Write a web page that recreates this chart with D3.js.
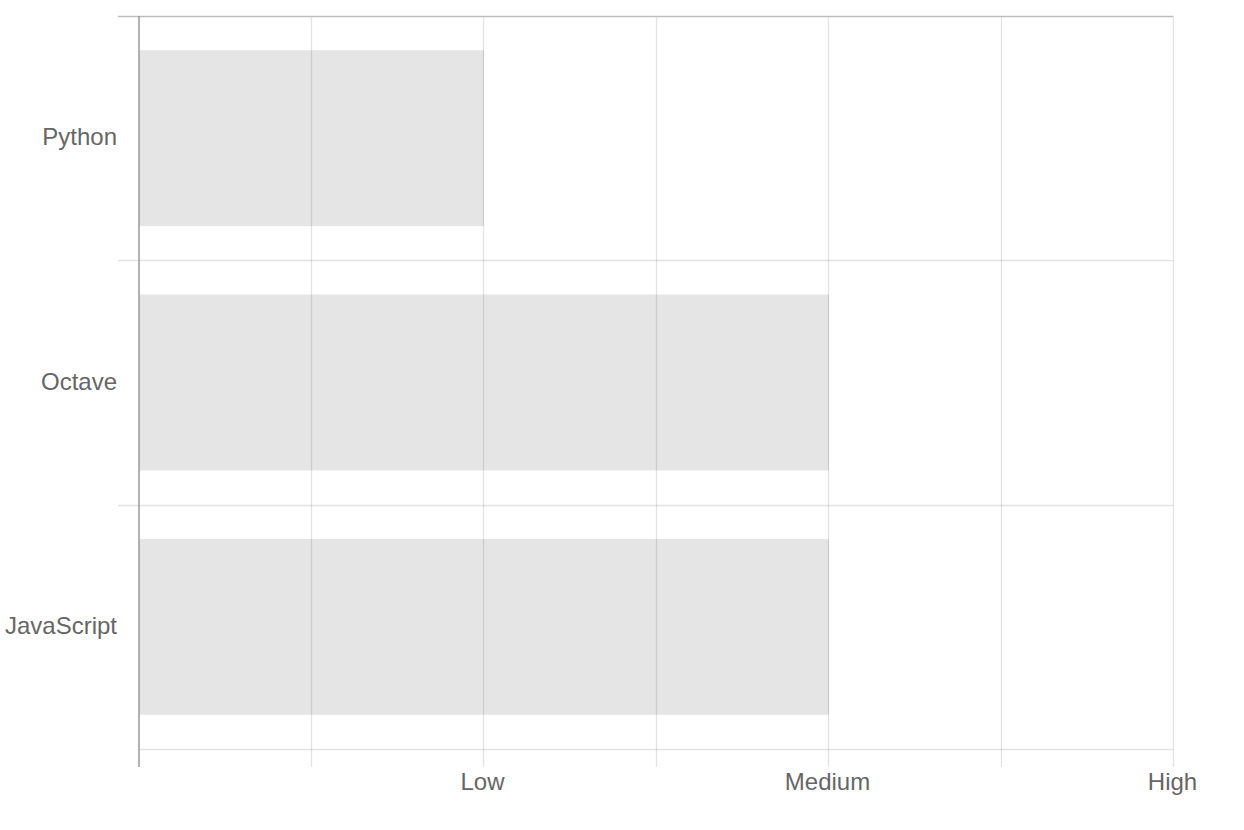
<!DOCTYPE html>
<html>
<head>
<meta charset="utf-8">
<script src="https://cdn.jsdelivr.net/npm/d3@7"></script>
<style>
  body { margin: 0; background: #fff; }
  text { font-family: "Liberation Sans", Arial, Helvetica, sans-serif; fill: #666; }
</style>
</head>
<body>
<div id="chart"></div>
<script>
// data
var categories = ["Python", "Octave", "JavaScript"];
var values = [2, 4, 4];
var tickValues = [0, 1, 2, 3, 4, 5, 6];
var levelValues = [2, 4, 6];
var levelNames = ["Low", "Medium", "High"];

// set the dimensions and margins of the graph
var margin = {top: 16, right: 70, bottom: 81, left: 139},
    width = 1244 - margin.left - margin.right,
    height = 830 - margin.top - margin.bottom;

var svg = d3.select("#chart")
  .append("svg")
    .attr("width", 1244)
    .attr("height", 830)
  .append("g")
    .attr("transform", "translate(" + margin.left + "," + margin.top + ")");

var x = d3.scaleLinear()
  .domain([0, 6])
  .range([0, width]);

var y = d3.scaleBand()
  .domain(categories)
  .range([0, height]);

var barPad = y.bandwidth() * 0.14;

// bars
svg.selectAll(".bar")
  .data(categories)
  .enter()
  .append("rect")
    .attr("class", "bar")
    .attr("x", x(0))
    .attr("y", function(d) { return y(d) + barPad; })
    .attr("width", function(d, i) { return x(values[i]) - x(0); })
    .attr("height", y.bandwidth() - 2 * barPad)
    .style("fill", "rgba(0,0,0,0.1)");

// vertical grid lines
svg.selectAll(".vgrid")
  .data(tickValues.slice(1))
  .enter()
  .append("line")
    .attr("x1", function(d) { return Math.round(x(d)) - 0.5; })
    .attr("x2", function(d) { return Math.round(x(d)) - 0.5; })
    .attr("y1", 0)
    .attr("y2", height + 18)
    .style("stroke", "rgba(0,0,0,0.11)")
    .style("stroke-width", 1.3);

// horizontal grid lines at band edges
var edges = categories.map(function(c) { return y(c); }).concat([height]);
svg.selectAll(".hgrid")
  .data(edges)
  .enter()
  .append("line")
    .attr("x1", function(d, i) { return i == edges.length - 1 ? 0 : -21; })
    .attr("x2", x(6) - 1)
    .attr("y1", function(d) { return Math.round(d) + 0.5; })
    .attr("y2", function(d) { return Math.round(d) + 0.5; })
    .style("stroke", function(d, i) { return i == 0 ? "#bdbdbd" : "rgba(0,0,0,0.11)"; })
    .style("stroke-width", function(d, i) { return i == 0 ? 1.5 : 1.3; });

// left axis line
svg.append("line")
  .attr("x1", 0).attr("x2", 0)
  .attr("y1", 0).attr("y2", height + 18)
  .style("stroke", "#999")
  .style("stroke-width", 1.5);

// X axis labels
var xAxis = d3.axisBottom(x)
  .tickValues(levelValues)
  .tickSize(0)
  .tickPadding(0)
  .tickFormat(function(d) { return levelNames[levelValues.indexOf(d)]; });

var gx = svg.append("g")
  .attr("transform", "translate(0," + (height + 41) + ")")
  .call(xAxis);
gx.select(".domain").remove();
gx.selectAll(".tick text")
  .attr("dx", -2)
  .attr("dy", 0)
  .style("font-size", "24px")
  .style("fill", "#666");

// Y axis labels
var yAxis = d3.axisLeft(y).tickSize(0).tickPadding(22);
var gy = svg.append("g").call(yAxis);
gy.select(".domain").remove();
gy.selectAll(".tick text")
  .attr("dy", "0.3em")
  .style("font-size", "24px")
  .style("fill", "#666");
</script>
</body>
</html>
